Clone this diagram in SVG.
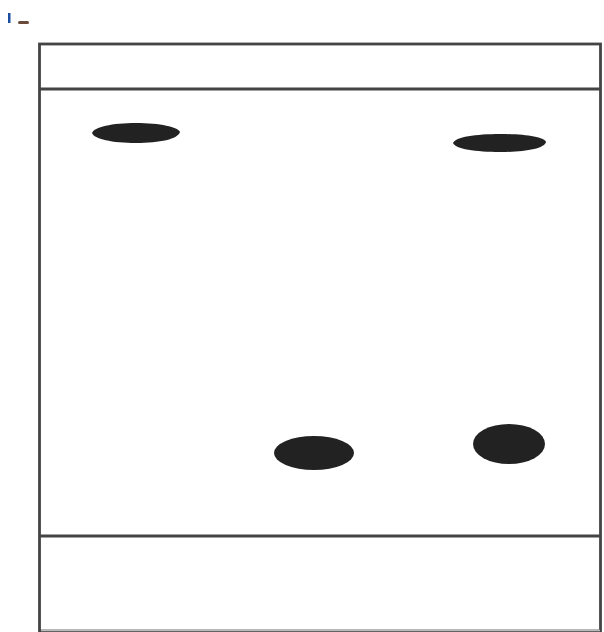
<svg xmlns="http://www.w3.org/2000/svg" width="604" height="632" viewBox="0 0 604 632">
<style>
.edge{fill:none;stroke:#444444;stroke-width:2.8}
.spot{fill:#222222}
</style>
<rect width="604" height="632" fill="#ffffff"/>
<g id="mark">
<rect x="8" y="13" width="2.5" height="10" fill="#1a4fa0"/>
<rect x="18" y="21" width="11" height="3" rx="1.5" fill="#6a4a3a"/>
</g>
<g id="plate">
<rect x="39.5" y="44" width="561" height="587" fill="#fcfcfc" class="edge"/>
<line x1="39.5" y1="89" x2="601" y2="89" class="edge"/>
<line x1="39.5" y1="536" x2="601" y2="536" class="edge"/>
<line x1="41" y1="630.5" x2="600" y2="630.5" stroke="#bbbbbb" stroke-width="1.5"/>
</g>
<g id="spots">
<path id="spot1" class="spot" d="M92,133 C94,127 112,123 136,123 C160,123 178,127 180,132 C178,139 160,143 136,143 C112,143 94,139 92,133 Z"/>
<path id="spot2" class="spot" d="M453,143 C455,137 476,134 500,134 C524,134 544,137 546,142 C544,149 524,152 500,152 C476,152 455,149 453,143 Z"/>
<ellipse id="spot3" class="spot" cx="314" cy="453" rx="40" ry="17"/>
<ellipse id="spot4" class="spot" cx="509" cy="444" rx="36" ry="20"/>
</g>
</svg>
